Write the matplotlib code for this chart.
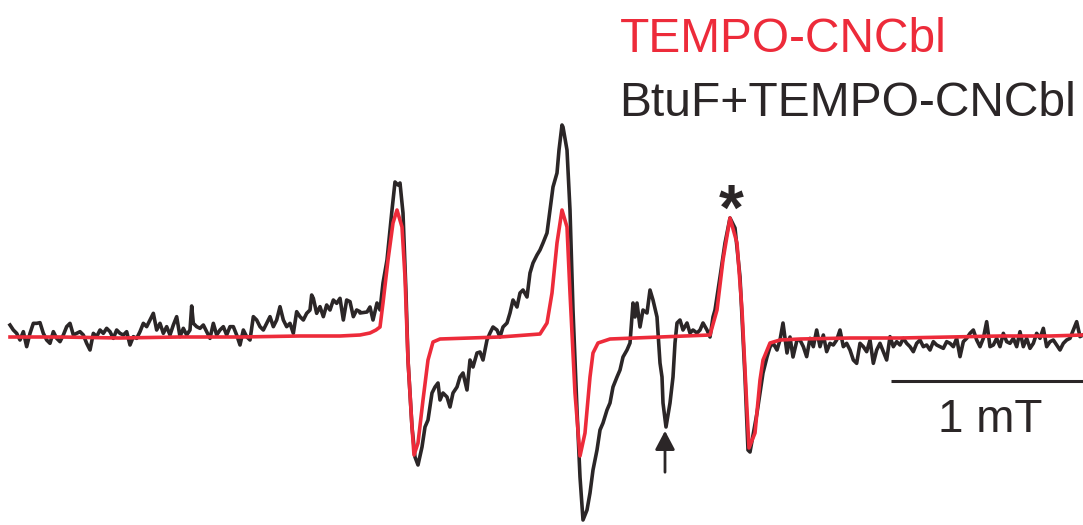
import matplotlib
matplotlib.use("Agg")
import matplotlib.pyplot as plt
import numpy as np

# Field positions (arbitrary units, 192 units = 1 mT) and signal (downward units)
red_field = [10, 60, 120, 180, 240, 300, 340, 360, 370, 376, 380, 383, 388, 393, 397, 402, 405, 408, 412, 414,
             418, 423, 428, 433, 440, 470, 500, 540, 547, 552, 557, 562, 567, 570, 575, 580, 585, 590, 593,
             598, 610, 660, 710, 717, 723, 730, 737, 742, 747, 749, 755, 760, 763, 770, 780, 800, 850, 900,
             950, 1000, 1050, 1083]
red_signal = [337, 337, 338, 337, 337, 336, 336, 335, 333, 330, 327, 303, 260, 223, 210, 227, 277, 360, 427, 455,
              443, 400, 360, 342, 339, 338, 337, 334, 323, 293, 243, 210, 227, 293, 393, 456, 433, 377, 353,
              343, 339, 337, 335, 310, 260, 218, 243, 310, 410, 448, 433, 380, 360, 343, 340, 339, 338, 338,
              337, 336, 336, 335]

# black trace, baseline region (left)
blk_left_zx = [30, 40, 50, 60, 70, 80, 90, 100, 110, 120, 130, 140, 150, 160, 170, 180, 190, 200, 210, 220,
               230, 240, 250, 260, 270, 280, 290, 300, 310, 320, 330, 340, 350, 360, 370, 380, 390, 400, 410,
               420, 430, 440, 450, 460, 470, 480, 490, 500, 510, 520, 530, 540, 550, 560, 570, 575, 580, 590,
               600, 610, 620, 630, 640, 650, 660, 670, 680, 690, 700, 710, 720, 730, 740, 750, 760, 770, 780,
               790, 800, 810, 820, 830, 840, 850, 860, 870, 880, 890, 900, 910, 920, 930, 935, 940, 950, 960,
               970, 980, 990, 1000, 1010, 1020, 1030, 1040, 1050, 1060, 1070, 1080]
blk_left_zy = [135, 150, 160, 180, 155, 200, 160, 130, 130, 128, 160, 180, 190, 155, 175, 185, 165, 140, 130, 165,
               160, 155, 165, 190, 210, 160, 170, 150, 160, 145, 155, 175, 150, 160, 165, 155, 195, 170, 175,
               155, 130, 140, 120, 100, 150, 130, 160, 140, 165, 135, 110, 170, 145, 165, 150, 78, 130, 140,
               145, 135, 155, 175, 130, 165, 150, 140, 165, 140, 140, 165, 195, 150, 170, 180, 110, 120, 140,
               150, 130, 110, 140, 120, 80, 120, 140, 130, 160, 95, 110, 120, 100, 90, 45, 55, 100, 80,
               110, 75, 90, 60, 70, 55, 120, 60, 65, 110, 90, 95]

blk_mid_field = [360, 367, 370, 373, 377, 380, 383, 387, 392, 395, 398, 400, 403, 406, 408, 412, 415, 418, 422, 425,
                 428, 432, 435, 438, 440, 443, 447, 450, 453, 457, 460, 463, 467, 470, 473, 477, 480, 483, 487,
                 490, 493, 497, 500, 503, 507, 510, 513, 517, 520, 523, 527, 530, 533, 537, 540, 543, 547, 550,
                 553, 557, 559, 562, 563, 567, 570, 573, 577, 580, 583, 587, 590, 593, 597, 600, 603, 607, 610,
                 613, 617, 620, 623, 627, 630, 633, 635, 637, 640, 643, 647, 650, 653, 657, 660, 662, 663, 666,
                 670, 673, 675, 677, 680, 683, 687, 690, 693, 697, 700, 703, 707, 710, 713, 715, 720, 725, 730,
                 735, 740, 745, 748, 750, 757, 760, 763, 767, 770, 773, 777, 780, 783, 787, 790, 793, 797]
blk_mid_signal = [313, 312, 307, 320, 303, 310, 283, 260, 210, 182, 185, 183, 213, 293, 360, 427, 457, 465, 447, 427,
                  420, 393, 387, 383, 400, 393, 397, 407, 393, 387, 377, 373, 390, 360, 367, 353, 352, 360, 340,
                  333, 327, 330, 337, 327, 323, 313, 300, 307, 293, 290, 297, 273, 263, 255, 250, 243, 233, 210,
                  187, 173, 150, 125, 127, 150, 210, 310, 410, 477, 520, 510, 493, 470, 450, 430, 423, 410, 403,
                  387, 377, 370, 357, 350, 343, 303, 317, 303, 327, 310, 313, 290, 300, 317, 363, 377, 403, 427,
                  403, 377, 343, 323, 320, 330, 323, 333, 330, 333, 330, 323, 330, 337, 317, 310, 277, 243, 218,
                  228, 277, 377, 450, 452, 413, 393, 373, 357, 347, 343, 350, 340, 323, 353, 337, 357, 340]

blk_right_zx = [100, 110, 120, 130, 140, 150, 160, 170, 180, 190, 200, 210, 220, 230, 240, 250, 260, 270, 280,
                290, 300, 310, 320, 330, 340, 350, 360, 370, 380, 390, 400, 410, 420, 430, 440, 450, 460, 470,
                480, 490, 500, 510, 520, 530, 540, 550, 560, 570, 580, 590, 600, 610, 620, 630, 640, 650, 660,
                670, 680, 690, 700, 710, 720, 730, 740, 750, 760, 770, 780, 790, 800, 810, 820, 830, 840, 850,
                860, 870, 880, 890, 900, 910, 920, 930, 940, 950, 960, 970, 980, 990, 1000, 1010, 1020, 1029]
blk_right_zy = [200, 185, 210, 130, 180, 200, 190, 230, 180, 200, 230, 175, 200, 150, 200, 165, 215, 190, 195,
                180, 150, 200, 190, 210, 240, 250, 190, 200, 215, 180, 250, 210, 190, 215, 240, 170, 200, 185,
                195, 175, 190, 200, 215, 190, 180, 200, 195, 210, 185, 195, 200, 205, 185, 190, 200, 175, 230,
                185, 175, 160, 150, 180, 200, 175, 125, 200, 195, 175, 200, 160, 185, 190, 175, 200, 155, 200,
                175, 205, 190, 160, 175, 145, 200, 185, 180, 195, 210, 190, 180, 175, 150, 125, 170, 165]

blk_field = [zx / 3 for zx in blk_left_zx] + blk_mid_field + [740 + zx / 3 for zx in blk_right_zx if 740 + zx / 3 > 797]
blk_signal = [280 + zy / 3 for zy in blk_left_zy] + blk_mid_signal + \
             [280 + zy / 3 for zx, zy in zip(blk_right_zx, blk_right_zy) if 740 + zx / 3 > 797]

labels = ["TEMPO-CNCbl", "BtuF+TEMPO-CNCbl"]
scale_label = "1 mT"

RED = "#ED2B3A"
BLK = "#2B2627"

fig = plt.figure(figsize=(10.83, 5.25), dpi=100)
ax = fig.add_axes([0, 0, 1, 1])
ax.set_xlim(0, 1083)
ax.set_ylim(525, 0)
ax.axis("off")

ax.plot(blk_field, blk_signal, color=BLK, lw=2.6, solid_joinstyle="round", zorder=2)
ax.plot(red_field, red_signal, color=RED, lw=2.6, solid_joinstyle="round", zorder=3)

ax.text(620, 40, labels[0], color=RED, fontsize=34.5, family="Liberation Sans", va="center", ha="left")
ax.text(619, 104, labels[1], color=BLK, fontsize=34.6, family="Liberation Sans", va="center", ha="left")

ax.text(731, 230, "*", color=BLK, fontsize=46, family="Liberation Sans", fontweight="bold",
        ha="center", va="baseline")

ax.annotate("", xy=(665, 428), xytext=(665, 475),
            arrowprops=dict(arrowstyle="-|>,head_length=0.95,head_width=0.5", color=BLK, lw=2.0,
                            mutation_scale=12))

ax.plot([891, 1083], [381, 381], color=BLK, lw=2.2, solid_capstyle="butt")
ax.text(990, 420, scale_label, color=BLK, fontsize=33, family="Liberation Sans", ha="center", va="center")

fig.savefig("out.png", dpi=100)
